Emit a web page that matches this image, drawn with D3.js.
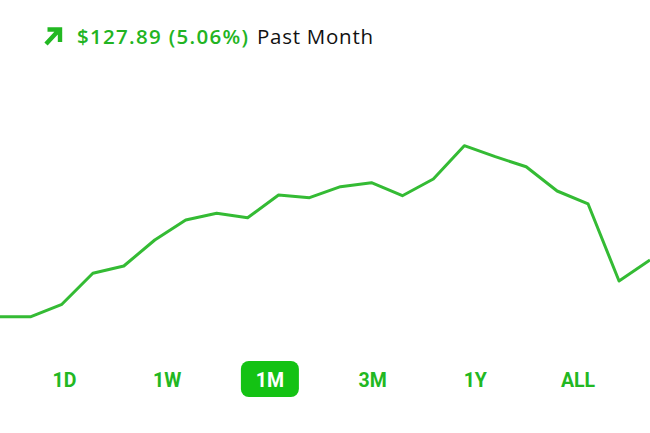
<!DOCTYPE html>
<html><head><meta charset="utf-8">
<script src="https://cdn.jsdelivr.net/npm/d3@7"></script>
<style>html,body{margin:0;padding:0;background:#fff;overflow:hidden}</style>
</head><body>
<svg id="c" width="650" height="433"></svg>
<script>
const days = d3.range(22);
const prices = [2527.5, 2527.5, 2555.5, 2625.4, 2641.9, 2700.5, 2745.7, 2760.8, 2750.8, 2802.1, 2796.0,
  2820.8, 2829.8, 2800.5, 2838.2, 2913.3, 2888.5, 2865.9, 2811.1, 2781.8, 2608.0, 2655.4];
const changeLabel = "$127.89 (5.06%)";
const periodLabel = "Past Month";
const ranges = ["1D", "1W", "1M", "3M", "1Y", "ALL"];
const activeRange = "1M";

const svg = d3.select("#c");

const x = d3.scaleLinear().domain([0, days.length - 1]).range([0, 650]);
const y = d3.scaleLinear().domain([2527.5, 2913.3]).range([316.7, 145.7]);

svg.append("path")
  .datum(prices)
  .attr("fill", "none")
  .attr("stroke", "#34bb34")
  .attr("stroke-width", 3)
  .attr("stroke-linejoin", "round")
  .attr("d", d3.line().x((d, i) => x(days[i])).y(d => y(d)));

// header
const hdr = svg.append("g");
hdr.append("path")
  .attr("d", "M46,44 L58.5,30.5 M47.5,29.5 L60,29.5 L60,42")
  .attr("fill", "none").attr("stroke", "#22b822").attr("stroke-width", 4.4)
  .attr("stroke-linecap", "butt").attr("stroke-linejoin", "miter");
hdr.append("text").attr("x", 77).attr("y", 44)
  .attr("font-family", "'Open Sans', Roboto, sans-serif").attr("font-size", 20.5).attr("font-weight", 600)
  .attr("fill", "#22b422")
  .attr("textLength", 171).attr("lengthAdjust", "spacing")
  .text(changeLabel);
hdr.append("text").attr("x", 257).attr("y", 44)
  .attr("font-family", "'Open Sans', Roboto, sans-serif").attr("font-size", 20.5).attr("font-weight", 400)
  .attr("fill", "#111")
  .attr("textLength", 116).attr("lengthAdjust", "spacing")
  .text(periodLabel);

// range buttons
const bx = d3.scalePoint().domain(ranges).range([64.5, 578]);
const btn = svg.append("g").selectAll("g").data(ranges).join("g")
  .attr("transform", d => `translate(${bx(d)},0)`);
btn.filter(d => d === activeRange).append("rect")
  .attr("x", -29).attr("y", 361).attr("width", 58).attr("height", 36).attr("rx", 8)
  .attr("fill", "#14c214");
btn.append("text")
  .attr("y", 386.5).attr("text-anchor", "middle")
  .attr("font-family", "Roboto, sans-serif").attr("font-weight", 700).attr("font-size", 19.5)
  .attr("fill", d => d === activeRange ? "#fff" : "#22b822")
  .text(d => d);
</script>
</body></html>
